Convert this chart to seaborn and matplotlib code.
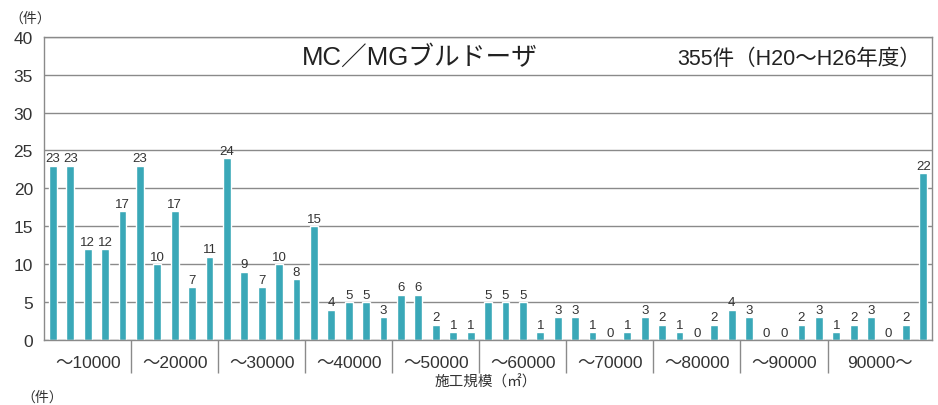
import matplotlib
matplotlib.use("Agg")
import matplotlib.pyplot as plt
import matplotlib.transforms as mtransforms
import numpy as np
import pandas as pd
import seaborn as sns

# 件数 per 施工規模 bin
counts = [23, 23, 12, 12, 17,
          23, 10, 17, 7, 11,
          24, 9, 7, 10, 8,
          15, 4, 5, 5, 3,
          6, 6, 2, 1, 1,
          5, 5, 5, 1, 3,
          3, 1, 0, 1, 3,
          2, 1, 0, 2, 4,
          3, 0, 0, 2, 3,
          1, 2, 3, 0, 2, 22]
group_labels = ["～10000", "～20000", "～30000", "～40000", "～50000",
                "～60000", "～70000", "～80000", "～90000", "90000～"]
group_sizes = [5, 5, 5, 5, 5, 5, 5, 5, 5, 6]

title = "MC／MGブルドーザ"
subtitle = "355件（H20～H26年度）"
xlabel = "施工規模（㎡）"
unit = "（件）"

sns.set_style("white")
plt.rcParams["font.family"] = ["Liberation Sans", "Noto Sans CJK JP", "DejaVu Sans"]

bar_color = "#3aa8b8"
grid_color = "#8a8a8a"
text_color = "#333333"

df = pd.DataFrame({"pos": np.arange(len(counts)), "count": counts})

fig = plt.figure(figsize=(9.38, 4.06), dpi=100)
ax = fig.add_axes([0.047, 0.160, 0.9466, 0.747])

sns.barplot(data=df, x="pos", y="count", color=bar_color, width=0.45,
            saturation=1, ax=ax)
ax.bar_label(ax.containers[0], padding=1, fontsize=9.5, color=text_color)

n = len(counts)
ax.set_xlim(-0.5, n - 0.5)
ax.set_ylim(0, 40)
ax.set_yticks(range(0, 41, 5))
ax.yaxis.grid(True, color=grid_color, lw=1)
ax.set_axisbelow(True)

# group labels at group centres, small ticks between every bar
edges = np.concatenate([[0], np.cumsum(group_sizes)]) - 0.5
centers = (edges[:-1] + edges[1:]) / 2
ax.set_xticks(centers)
ax.set_xticklabels(group_labels, fontsize=12.5, color=text_color)
ax.tick_params(axis="x", which="major", length=0, pad=11)
ax.set_xticks(np.arange(n + 1) - 0.5, minor=True)
ax.tick_params(axis="x", which="minor", length=4, color=grid_color, direction="out")
ax.tick_params(axis="y", length=6, color=grid_color, labelsize=12.5,
               labelcolor=text_color, pad=2)

trans = mtransforms.blended_transform_factory(ax.transData, ax.transAxes)
ax.vlines(edges[1:-1], -0.11, 0, transform=trans, color=grid_color, lw=1,
          clip_on=False)

for side in ["left", "right", "top", "bottom"]:
    ax.spines[side].set_color(grid_color)
    ax.spines[side].set_linewidth(1)

ax.set_xlabel("")
ax.set_ylabel("")
fig.text(0.518, 0.057, xlabel, ha="center", va="center", fontsize=10.5,
         color=text_color)

ax.text(0.423, 0.934, title, transform=ax.transAxes, ha="center", va="center",
        fontsize=18.5, color="#222222")
ax.text(0.988, 0.927, subtitle, transform=ax.transAxes, ha="right", va="center",
        fontsize=15.5, color="#222222")

fig.text(0.032, 0.953, unit, ha="center", va="center", fontsize=10,
         color=text_color)
fig.text(0.045, 0.02, unit, ha="center", va="center", fontsize=10,
         color=text_color)

fig.savefig("out.png", dpi=100)
